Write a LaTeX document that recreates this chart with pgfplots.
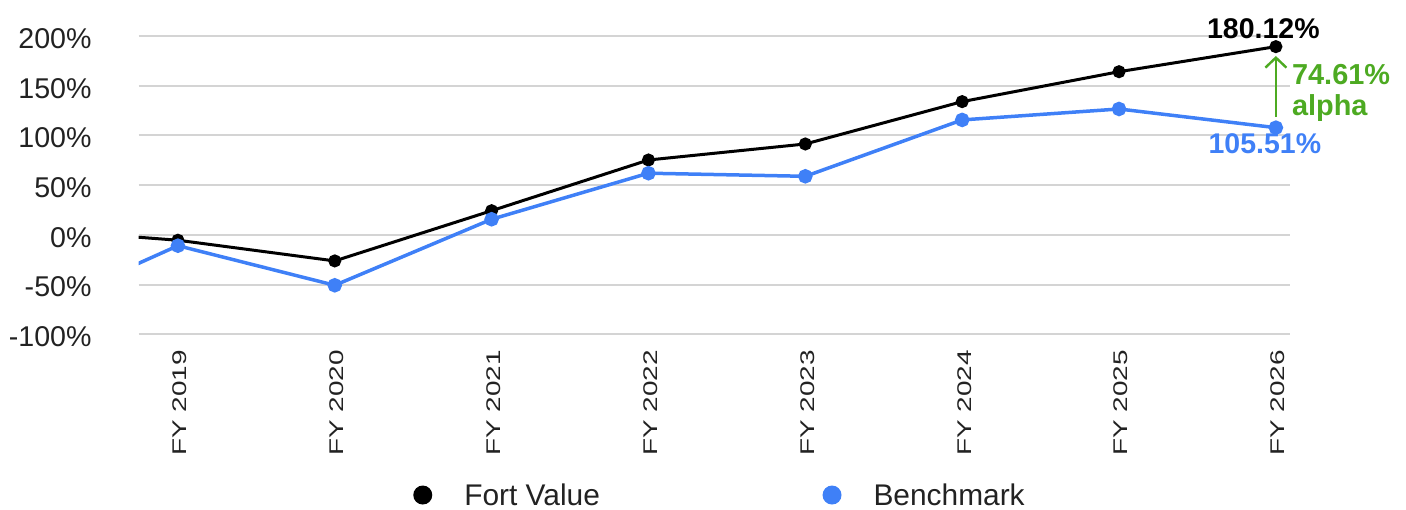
\documentclass[border=0pt]{standalone}
\usepackage{fontspec}
\setmainfont{Liberation Sans}
\usepackage{pgfplots}
\pgfplotsset{compat=1.18}
\usetikzlibrary{arrows.meta}
\definecolor{benchblue}{HTML}{3F80F7}
\definecolor{alphagreen}{HTML}{4DAA22}
\definecolor{gridgray}{HTML}{D4D4D4}
\definecolor{tickcol}{HTML}{222222}
\begin{document}
\begin{tikzpicture}
\path[use as bounding box] (-138.7bp,-175.7bp) rectangle (1267.3bp,334.3bp);
\begin{axis}[
  width=1151.3bp, height=298.3bp, scale only axis,
  xmin=-0.25, xmax=7.09, ymin=-100, ymax=200,
  axis line style={draw=none},
  major tick length=0pt,
  xtick={0,1,2,3,4,5,6,7},
  xticklabels={FY 2019,FY 2020,FY 2021,FY 2022,FY 2023,FY 2024,FY 2025,FY 2026},
  ytick={-100,-50,0,50,100,150,200},
  yticklabels={-100\%,-50\%,0\%,50\%,100\%,150\%,200\%},
  ymajorgrids, xmajorgrids=false,
  grid style={draw=gridgray, line width=2bp},
  yticklabel style={font=\fontsize{28.7}{34}\selectfont, text=tickcol, inner sep=0pt, anchor=east, xshift=-47bp, yshift=-2.5bp},
  xticklabel style={font=\fontsize{28}{34}\selectfont, text=tickcol, inner sep=0pt, yshift=-15.7bp, xshift=2bp, rotate=90, yscale=0.71, anchor=east},
  clip mode=individual,
  legend columns=2,
  legend cell align=left,
  legend image code/.code={\fill[#1, draw=none] (9.5bp,0bp) circle (9.5bp); \path[draw=none, fill=none] (0bp,0bp) -- (51bp,0bp);},
  legend style={draw=none, fill=none, inner sep=0pt, outer sep=0pt,
    font=\fontsize{30}{36}\selectfont, text=tickcol,
    nodes={inner sep=0pt},
    /tikz/every even column/.append style={column sep=222.6bp},
    at={(axis description cs:0.2385,-0.5388)}, anchor=west},
]
\addplot[black, line width=3bp, mark=*, mark size=5bp] coordinates {
  (-1,6.6) (0,-5.4) (1,-26.2) (2,24.3) (3,75.3) (4,91.4) (5,134.0) (6,164.1) (7,189.3)};
\addlegendentry{Fort Value}
\addplot[benchblue, line width=3.5bp, mark=*, mark size=5.5bp, mark options={draw=none, fill=benchblue}] coordinates {
  (-1,-81.7) (0,-10.9) (1,-50.7) (2,15.7) (3,62.0) (4,58.9) (5,115.6) (6,126.6) (7,107.8)};
\addlegendentry{Benchmark}
\draw[alphagreen, line width=2.4bp, -{Straight Barb[length=10bp, width=21bp]}] (axis cs:7,118.3) -- (axis cs:7,179.9);
\node[anchor=base, inner sep=0pt, font=\fontsize{28.6}{34}\selectfont\bfseries, text=black, xshift=-12.5bp, yshift=7.7bp] at (axis cs:7,189.3) {180.12\%};
\node[anchor=base, inner sep=0pt, font=\fontsize{28.6}{34}\selectfont\bfseries, text=benchblue, xshift=-11bp, yshift=-25.6bp] at (axis cs:7,107.8) {105.51\%};
\node[anchor=base west, inner sep=0pt, font=\fontsize{29}{34}\selectfont\bfseries, text=alphagreen, xshift=16bp] at (axis cs:7,151.5) {74.61\%};
\node[anchor=base west, inner sep=0pt, font=\fontsize{29}{34}\selectfont\bfseries, text=alphagreen, xshift=16bp] at (axis cs:7,119.6) {alpha};
\end{axis}
\end{tikzpicture}
\end{document}
